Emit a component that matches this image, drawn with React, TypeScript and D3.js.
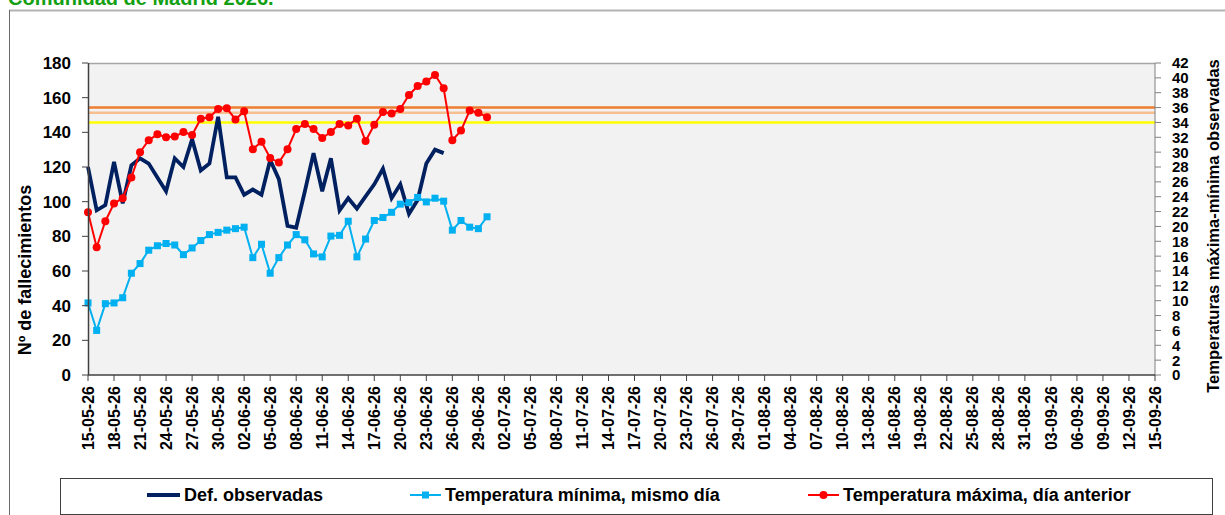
import * as d3 from 'd3';

// daily series starting 15-05-26
const startDate = new Date(Date.UTC(2026, 4, 15));
const endDate = new Date(Date.UTC(2026, 8, 15));

const deaths = [120, 95, 98, 123, 99, 121, 125, 122, 114, 106, 125, 120, 136, 118, 122, 149, 114, 114, 104, 107, 104, 124, 113, 86, 85, 106, 128, 106, 125, 95, 102, 96, 103, 110, 119, 102, 110, 93, 101, 122, 130, 128];

const tMin = [9.7, 6.0, 9.6, 9.7, 10.4, 13.7, 15.0, 16.8, 17.4, 17.7, 17.5, 16.2, 17.1, 18.1, 18.9, 19.2, 19.5, 19.7, 19.9, 15.8, 17.6, 13.7, 15.8, 17.5, 18.9, 18.2, 16.3, 15.9, 18.7, 18.8, 20.7, 15.9, 18.3, 20.8, 21.2, 21.9, 23.0, 23.2, 23.9, 23.3, 23.8, 23.4, 19.5, 20.8, 19.9, 19.7, 21.3];

const tMax = [21.9, 17.2, 20.7, 23.1, 23.8, 26.6, 30.0, 31.6, 32.4, 32.0, 32.1, 32.7, 32.3, 34.5, 34.7, 35.8, 35.9, 34.4, 35.5, 30.4, 31.4, 29.2, 28.6, 30.4, 33.1, 33.8, 33.1, 31.9, 32.7, 33.8, 33.6, 34.5, 31.5, 33.7, 35.4, 35.2, 35.8, 37.7, 38.9, 39.5, 40.4, 38.6, 31.6, 32.9, 35.6, 35.3, 34.7];

// threshold lines (right axis, ºC)
const thresholds = [
  { value: 36, color: '#ED7D31' },
  { value: 35.3, color: '#F7BE8F' },
  { value: 34, color: '#FFFF00' },
];

const leftTicks = d3.range(0, 181, 20);
const rightTicks = d3.range(0, 43, 2);

const FONT = 'Liberation Sans, Arial, sans-serif';

export default function App() {
  const width = 1225;
  const height = 515;
  const margin = { top: 63, right: 70, bottom: 140, left: 88 };
  const plotW = 1155 - margin.left;
  const plotH = 375 - margin.top;

  const dayAt = (i: number) => d3.utcDay.offset(startDate, i);

  const x = d3.scaleUtc().domain([startDate, endDate]).range([0, plotW]);
  const yL = d3.scaleLinear().domain([0, 180]).range([plotH, 0]);
  const yR = d3.scaleLinear().domain([0, 42]).range([plotH, 0]);

  const nDays = d3.utcDay.count(startDate, endDate);
  const xTicks = d3.range(0, nDays + 1, 3).map(dayAt);
  const fmt = d3.utcFormat('%d-%m-%y');

  const lineL = d3.line<number>().x((_, i) => x(dayAt(i))).y(d => yL(d));
  const lineR = d3.line<number>().x((_, i) => x(dayAt(i))).y(d => yR(d));

  return (
    <div style={{ position: 'fixed', left: 0, top: 0, width, height, background: '#fff' }}>
      <svg width={width} height={height} style={{ display: 'block', fontFamily: FONT }}>
        <text x={8} y={5} fill="#12a012" fontSize={20} fontWeight="bold">Comunidad de Madrid 2026.</text>
        {/* chart frame */}
        <line x1={9} x2={width} y1={10.5} y2={10.5} stroke="#b3b3b3" strokeWidth={2} />
        <line x1={9.5} x2={9.5} y1={10} y2={height} stroke="#6b6b6b" strokeWidth={1} />

        <g transform={`translate(${margin.left},${margin.top})`}>
          <rect x={0} y={0} width={plotW} height={plotH} fill="#f2f2f2" />
          <line x1={0} x2={plotW} y1={0.5} y2={0.5} stroke="#a6a6a6" strokeWidth={1.5} />

          {thresholds.map(t => (
            <line key={t.value} x1={0} x2={plotW} y1={yR(t.value)} y2={yR(t.value)} stroke={t.color} strokeWidth={2.5} />
          ))}

          {/* deaths */}
          <path d={lineL(deaths) || ''} fill="none" stroke="#002060" strokeWidth={3.8} strokeLinejoin="miter" />

          {/* min temp */}
          <path d={lineR(tMin) || ''} fill="none" stroke="#00B0F0" strokeWidth={2} />
          {tMin.map((d, i) => (
            <rect key={i} x={x(dayAt(i)) - 3.5} y={yR(d) - 3.5} width={7} height={7} fill="#00B0F0" />
          ))}

          {/* max temp */}
          <path d={lineR(tMax) || ''} fill="none" stroke="#FF0000" strokeWidth={2} />
          {tMax.map((d, i) => (
            <circle key={i} cx={x(dayAt(i))} cy={yR(d)} r={4} fill="#FF0000" />
          ))}

          {/* left axis */}
          <line x1={0.5} x2={0.5} y1={0} y2={plotH} stroke="#404040" strokeWidth={1.5} />
          {leftTicks.map(t => (
            <g key={t} transform={`translate(0,${yL(t)})`}>
              <line x1={-6} x2={0} stroke="#404040" />
              <text x={-17} dy="0.35em" textAnchor="end" fontSize={17} fontWeight="bold" fill="#000">{t}</text>
            </g>
          ))}

          {/* right axis */}
          <line x1={plotW} x2={plotW} y1={0} y2={plotH} stroke="#808080" strokeWidth={1} />
          {rightTicks.map(t => (
            <g key={t} transform={`translate(${plotW},${yR(t)})`}>
              <line x1={0} x2={6} stroke="#808080" />
              <text x={17} dy="0.36em" textAnchor="start" fontSize={15} fontWeight="bold" fill="#000">{t}</text>
            </g>
          ))}

          {/* x axis */}
          <line x1={0} x2={plotW} y1={plotH} y2={plotH} stroke="#404040" strokeWidth={1.5} />
          {xTicks.map(t => (
            <g key={t.getTime()} transform={`translate(${x(t)},${plotH})`}>
              <line y1={0} y2={6} stroke="#404040" />
              <text transform="translate(0,11) rotate(-90)" dy="0.35em" textAnchor="end" fontSize={16} fontWeight="bold" fill="#000">{fmt(t)}</text>
            </g>
          ))}
        </g>

        <text transform="translate(31,270) rotate(-90)" textAnchor="middle" fontSize={18} fontWeight="bold" fill="#000">Nº de fallecimientos</text>
        <text transform="translate(1219,226) rotate(-90)" textAnchor="middle" fontSize={16.5} fontWeight="bold" fill="#000">Temperaturas máxima-mínima observadas</text>

        {/* legend */}
        <rect x={60.5} y={478.5} width={1152} height={36} fill="#fff" stroke="#404040" strokeWidth={1} />
        <g fontSize={18} fontWeight="bold" fill="#000">
          <line x1={147} x2={180} y1={495} y2={495} stroke="#002060" strokeWidth={3.8} />
          <text x={184} y={495} dy="0.35em">Def. observadas</text>

          <line x1={410} x2={441} y1={495} y2={495} stroke="#00B0F0" strokeWidth={2} />
          <rect x={422} y={491.5} width={7} height={7} fill="#00B0F0" />
          <text x={445} y={495} dy="0.35em">Temperatura mínima, mismo día</text>

          <line x1={808} x2={839} y1={495} y2={495} stroke="#FF0000" strokeWidth={2} />
          <circle cx={823.5} cy={495} r={4} fill="#FF0000" />
          <text x={843} y={495} dy="0.35em">Temperatura máxima, día anterior</text>
        </g>
      </svg>
    </div>
  );
}
